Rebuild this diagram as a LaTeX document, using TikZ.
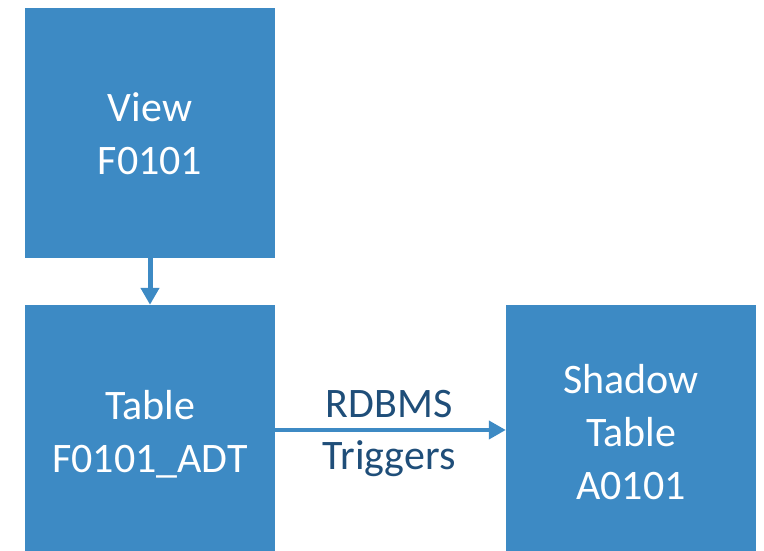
\documentclass[tikz,border=0pt]{standalone}
\usepackage{fontspec}
\setmainfont{Carlito}
\usetikzlibrary{arrows.meta}
\definecolor{boxblue}{HTML}{3D8AC4}
\definecolor{labelblue}{HTML}{1F4E79}
\begin{document}
\begin{tikzpicture}[x=1pt,y=1pt,
  blockbox/.style={fill=boxblue, draw=none, minimum width=250pt, inner sep=0pt},
  boxtext/.style={align=center, text=white, font=\fontsize{42}{53}\selectfont},
  conn/.style={draw=boxblue, -{Triangle[length=17pt,width=18pt]}}]
\useasboundingbox (0,0) rectangle (764,551);
\node[blockbox, minimum height=250pt] (view) at (150,418) {};
\node[blockbox, minimum height=246pt] (table) at (150,123) {};
\node[blockbox, minimum height=246pt] (shadow) at (631,123) {};
\node[boxtext] (viewtext) at (150,417) {View\\F0101};
\node[boxtext] (tabletext) at (150,117) {Table\\F0101\_ADT};
\node[boxtext] (shadowtext) at (631,119) {Shadow\\Table\\A0101};
\draw[conn, line width=5pt] (view.south) -- (table.north);
\draw[conn, line width=4pt] (table.east |- 0,121) -- (shadow.west |- 0,121);
\node[text=labelblue, font=\fontsize{42}{52}\selectfont, align=center] (lbl) at (389,118) {RDBMS\\Triggers};
\end{tikzpicture}
\end{document}
